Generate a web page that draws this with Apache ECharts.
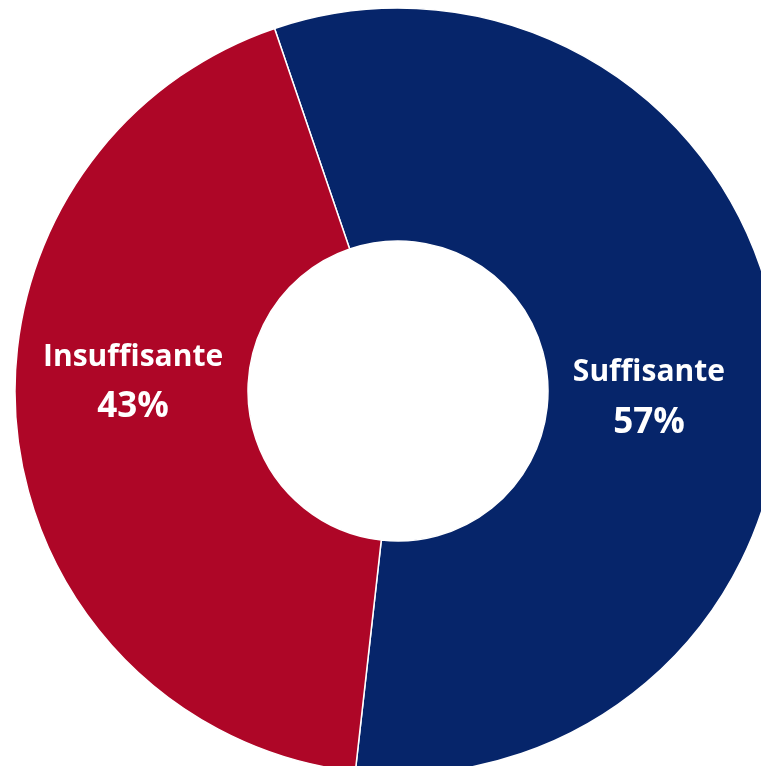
<!DOCTYPE html>
<html><head><meta charset="utf-8">
<script src="https://cdn.jsdelivr.net/npm/echarts@6/dist/echarts.min.js"></script>
<style>html,body{margin:0;padding:0;background:#fff}#c{width:761px;height:766px}</style>
</head><body><div id="c"></div>
<script>
const categories = ['Suffisante', 'Insuffisante'];
const values = [57, 43];
const colors = ['#06256A', '#AE0627'];
const labelOffsets = [[-17, 36], [3, -38]];

const chart = echarts.init(document.getElementById('c'));
chart.setOption({
  animation: false,
  series: [{
    type: 'pie',
    center: [398, 391],
    radius: [150, 383],
    startAngle: 108.8,
    clockwise: true,
    silent: true,
    itemStyle: { borderColor: '#fff', borderWidth: 1.5 },
    label: {
      show: true,
      position: 'inside',
      fontFamily: 'Open Sans',
      fontWeight: 'bold',
      color: '#fff',
      formatter: p => '{n|' + p.name + '}\n{v|' + p.value + '%}',
      rich: {
        n: { fontFamily: 'Open Sans', fontWeight: 'bold', color: '#fff', fontSize: 30, lineHeight: 50 },
        v: { fontFamily: 'Open Sans', fontWeight: 'bold', color: '#fff', fontSize: 35, lineHeight: 50 }
      }
    },
    labelLine: { show: false },
    data: categories.map((c, i) => ({
      name: c, value: values[i],
      itemStyle: { color: colors[i] },
      label: { offset: labelOffsets[i] }
    }))
  }]
});
</script></body></html>
